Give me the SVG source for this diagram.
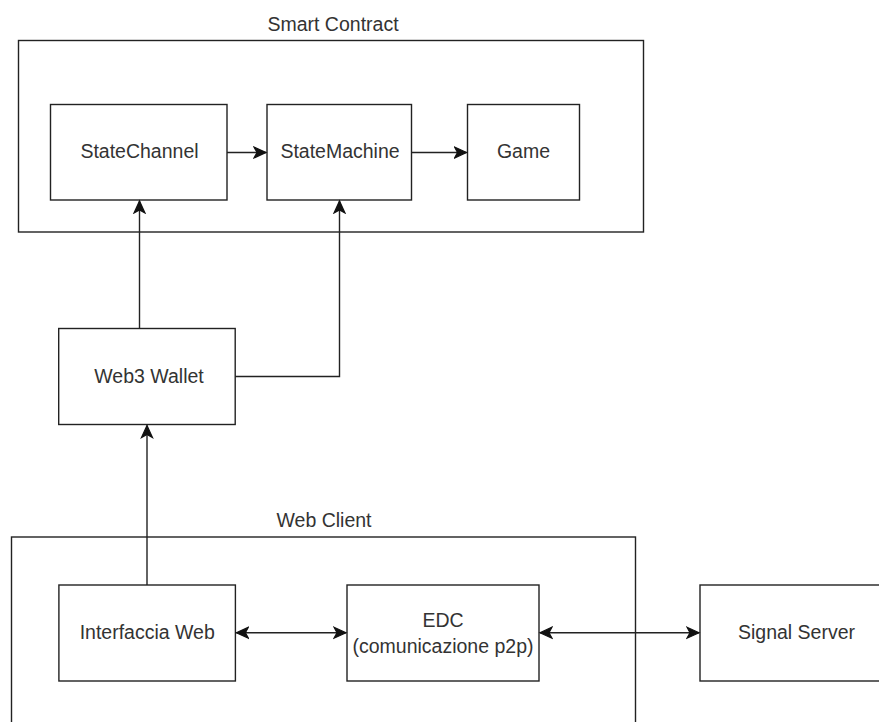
<svg xmlns="http://www.w3.org/2000/svg" width="879" height="722" viewBox="0 0 879 722">
  <style>
    .box { fill: #ffffff; stroke: #222222; stroke-width: 1.4; }
    .frame { fill: none; stroke: #222222; stroke-width: 1.4; }
    .edge { fill: none; stroke: #222222; stroke-width: 1.4; }
    .label { font-family: "Liberation Sans", Arial, sans-serif; font-size: 19.5px; fill: #333333; text-anchor: middle; }
  </style>
  <defs>
    <marker id="arrow" markerUnits="userSpaceOnUse" markerWidth="16" markerHeight="16" viewBox="-1 -1 16 16" refX="12" refY="6.5" orient="auto-start-reverse">
      <path d="M0,1 L12,6.5 L0,12 L3,6.5 Z" fill="#111111" stroke="#111111" stroke-width="1.2" stroke-linejoin="miter"/>
    </marker>
  </defs>

  <rect width="879" height="722" fill="#ffffff"/>

  <!-- containers -->
  <g id="smart-contract">
    <rect class="frame" x="18.5" y="40.5" width="625" height="191.5"/>
    <text class="label" x="333" y="31">Smart Contract</text>
  </g>
  <g id="web-client">
    <rect class="frame" x="11.5" y="537" width="624" height="200"/>
    <text class="label" x="324" y="526.5">Web Client</text>
  </g>

  <!-- nodes -->
  <g id="state-channel">
    <rect class="box" x="50.5" y="104.5" width="176.5" height="95.5"/>
    <text class="label" x="139.5" y="158">StateChannel</text>
  </g>
  <g id="state-machine">
    <rect class="box" x="267" y="104.5" width="144.5" height="95.5"/>
    <text class="label" x="340" y="158">StateMachine</text>
  </g>
  <g id="game">
    <rect class="box" x="467.5" y="104.5" width="112" height="95.5"/>
    <text class="label" x="523.5" y="158">Game</text>
  </g>
  <g id="web3-wallet">
    <rect class="box" x="58.7" y="328.5" width="176.5" height="96"/>
    <text class="label" x="149" y="383">Web3 Wallet</text>
  </g>
  <g id="interfaccia-web">
    <rect class="box" x="58.9" y="585" width="176.5" height="96"/>
    <text class="label" x="147.2" y="639">Interfaccia Web</text>
  </g>
  <g id="edc">
    <rect class="box" x="347" y="585" width="192" height="96"/>
    <text class="label" x="443" y="626.5">EDC</text>
    <text class="label" x="443" y="653">(comunicazione p2p)</text>
  </g>
  <g id="signal-server">
    <rect class="box" x="700" y="585" width="193" height="96"/>
    <text class="label" x="796.5" y="639">Signal Server</text>
  </g>

  <!-- connectors -->
  <g id="connectors">
    <path class="edge" d="M227,152.5 L266,152.5" marker-end="url(#arrow)"/>
    <path class="edge" d="M411.5,152.5 L466.5,152.5" marker-end="url(#arrow)"/>
    <path class="edge" d="M139.5,328.5 L139.5,201" marker-end="url(#arrow)"/>
    <path class="edge" d="M235.2,376.5 L339.5,376.5 L339.5,201" marker-end="url(#arrow)"/>
    <path class="edge" d="M147,585 L147,425.5" marker-end="url(#arrow)"/>
    <path class="edge" d="M236.4,632.7 L346,632.7" marker-start="url(#arrow)" marker-end="url(#arrow)"/>
    <path class="edge" d="M540,632.7 L699,632.7" marker-start="url(#arrow)" marker-end="url(#arrow)"/>
  </g>
</svg>
